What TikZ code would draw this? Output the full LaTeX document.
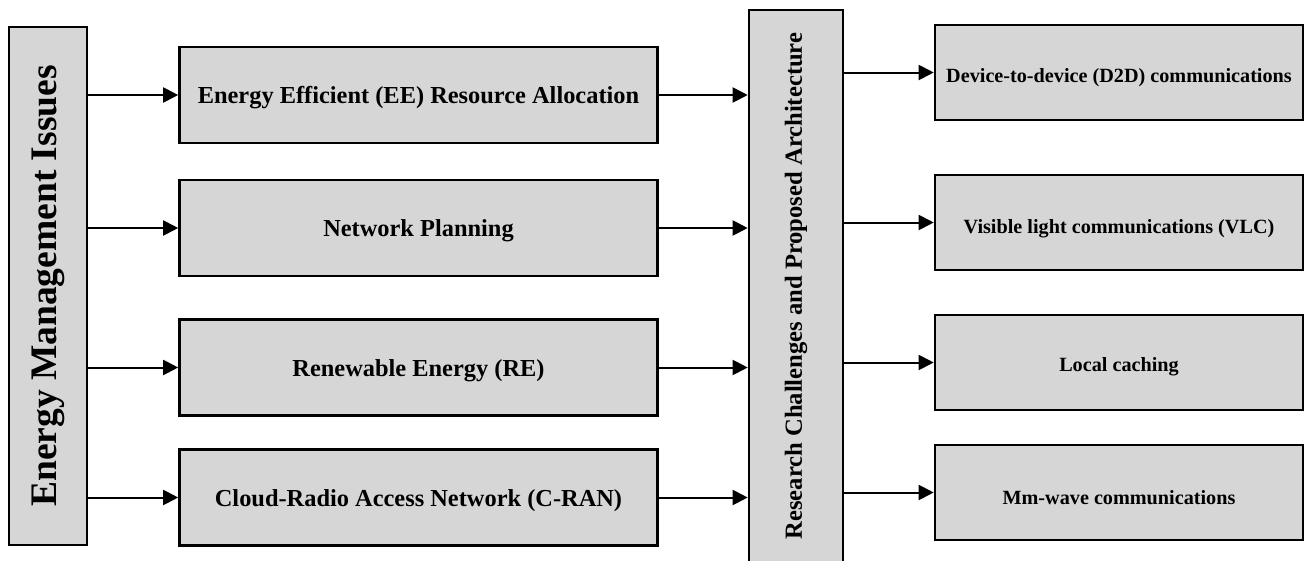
\documentclass[tikz,border=0pt]{standalone}
\usepackage{fontspec}
\setmainfont{Liberation Serif}
\usetikzlibrary{arrows.meta}
\newcommand{\lowered}[2]{\raisebox{-#1}[\height][\depth]{#2}}
\begin{document}
\begin{tikzpicture}[x=1pt,y=-1pt,
  box/.style={draw=black,line width=2.6pt,fill=boxgray,inner sep=0pt,font=\bfseries},
  issuebox/.style={box,minimum width=478pt,minimum height=96pt,font=\bfseries\fontsize{24.4}{26}\selectfont},
  techbox/.style={box,minimum width=368pt,minimum height=95pt,font=\bfseries\fontsize{20.2}{22}\selectfont},
  link/.style={line width=2pt,-{Triangle[length=15pt,width=15pt]}}]
\definecolor{boxgray}{HTML}{D6D6D6}
\useasboundingbox (0,0) rectangle (1306,560);
% left column title
\node[box,minimum width=78pt,minimum height=518pt,font=\bfseries\fontsize{37.5}{38}\selectfont] (emi) at (48,286) {\rotatebox{90}{Energy Management Issues}};
% middle issue boxes
\node[issuebox] (ee) at (418.5,95) {\lowered{3pt}{Energy Efficient (EE) Resource Allocation}};
\node[issuebox] (np) at (418.5,228) {\lowered{3pt}{Network Planning}};
\node[issuebox] (re) at (418.5,367.5) {\lowered{3pt}{Renewable Energy (RE)}};
\node[issuebox] (cran) at (418.5,497.5) {\lowered{3pt}{Cloud-Radio Access Network (C-RAN)}};
% central vertical box
\node[box,minimum width=94pt,minimum height=552pt,font=\bfseries\fontsize{24.6}{26}\selectfont] (rc) at (796,286) {\rotatebox{90}{Research Challenges and Proposed Architecture}};
% right technology boxes (labels sit a little below centre)
\node[techbox] (d2d) at (1119,72.5) {\lowered{5pt}{Device-to-device (D2D) communications}};
\node[techbox] (vlc) at (1119,222.5) {\lowered{6pt}{Visible light communications (VLC)}};
\node[techbox] (lc) at (1119,362.5) {\lowered{4pt}{Local caching}};
\node[techbox] (mm) at (1119,492.5) {\lowered{5pt}{Mm-wave communications}};
% connectors
\foreach \t in {ee,np,re,cran}{
  \draw[link] (emi.east |- \t.west) -- (\t.west);
  \draw[link] (\t.east) -- (rc.west |- \t.east);
}
\foreach \t in {d2d,vlc,lc,mm}{
  \draw[link] (rc.east |- \t.west) -- (\t.west);
}
\end{tikzpicture}
\end{document}
